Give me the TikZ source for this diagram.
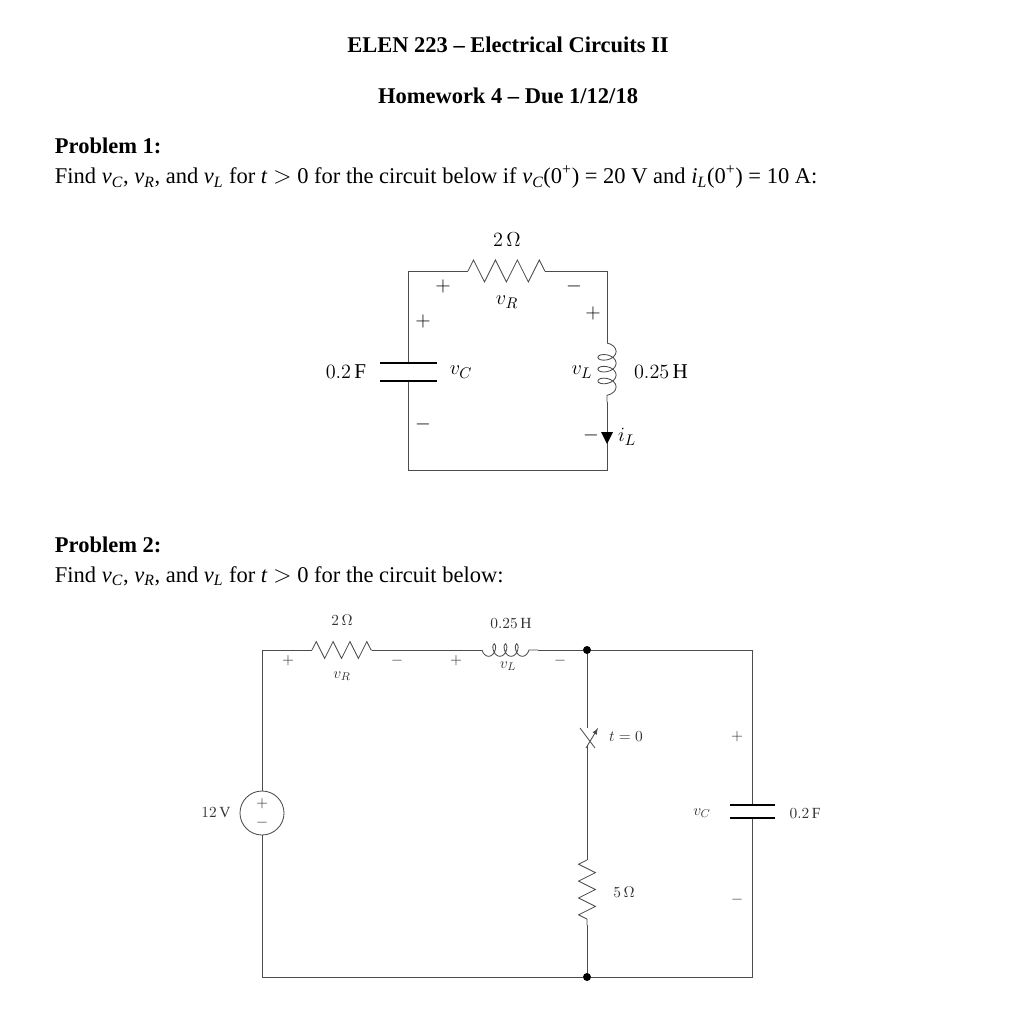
\documentclass[tikz,border=0pt]{standalone}
\usepackage{fontspec}
\setmainfont{Liberation Serif}
\usetikzlibrary{decorations.pathmorphing}
\begin{document}
\begin{tikzpicture}
      [x=0.025cm,y=-0.025cm,
      wire/.style={draw=black!70,line width=0.6pt},
      res/.style={wire,decorate,decoration={zigzag,segment length=12,amplitude=6}},
      coil/.style={wire,decorate,decoration={coil,aspect=0.6,segment length=8.4,amplitude=6.5}},
      plate/.style={line width=1.3pt},
      lbl/.style={font=\fontsize{15}{17}\selectfont},
      small/.style={font=\fontsize{11}{13}\selectfont,text=black!80},
      dot/.style={circle,fill,inner sep=0pt,minimum size=2mm}
      ]
      \useasboundingbox (0,0) rectangle (1015,1024);
      % heading
      \node (title) at (508,45) {\fontsize{16}{19}\selectfont\bfseries ELEN 223 -- Electrical Circuits II};
      \node (hw) at (508,96) {\fontsize{16}{19}\selectfont\bfseries Homework 4 -- Due 1/12/18};
      \node (p1) [anchor=west] at (50,146) {\fontsize{16}{19}\selectfont\bfseries Problem 1:};
      \node (q1) [anchor=west] at (50,177) {\fontsize{16}{19}\selectfont Find \textit{v\textsubscript{C}}, \textit{v\textsubscript{R}}, and \textit{v\textsubscript{L}} for \textit{t} $>$ 0 for the circuit below if \textit{v\textsubscript{C}}(0\textsuperscript{+}) = 20 V and \textit{i\textsubscript{L}}(0\textsuperscript{+}) = 10 A:};
      \node (p2) [anchor=west] at (50,545) {\fontsize{16}{19}\selectfont\bfseries Problem 2:};
      \node (q2) [anchor=west] at (50,576) {\fontsize{16}{19}\selectfont Find \textit{v\textsubscript{C}}, \textit{v\textsubscript{R}}, and \textit{v\textsubscript{L}} for \textit{t} $>$ 0 for the circuit below:};
      % circuit 1
      \coordinate (a) at (408,271);
      \coordinate (b) at (607,271);
      \coordinate (c) at (607,470);
      \coordinate (d) at (408,470);
      \coordinate (r1) at (468,271);
      \coordinate (r2) at (545,271);
      \coordinate (l1) at (607,343);
      \coordinate (l2) at (607,402);
      \coordinate (c1) at (408,363);
      \coordinate (c2) at (408,381);
      \draw [wire] (c1) -- (a) -- (r1);
      \draw [res,decoration={segment length=15.6,amplitude=7.8}] (r1) -- (r2);
      \draw [wire] (r2) -- (b) -- (l1);
      \draw [coil] (l1) -- (l2);
      \draw [wire] (l2) -- (c) -- (d) -- (c2);
      \draw [plate] (380,363) -- (437,363) (380,381) -- (437,381);
      \fill (601,432) -- (613,432) -- (607,444) -- cycle;
      \node [lbl] (rv) at (507,240) {$2\,\Omega$};
      \node [lbl] (rl) at (507,302) {$v_R$};
      \node [lbl] (rp) at (443,286) {$+$};
      \node [lbl] (rm) at (574,286) {$-$};
      \node [lbl] (cp) at (423,321) {$+$};
      \node [lbl] (cm) at (423,424) {$-$};
      \node [lbl] (cv) at (346,372) {$0.2\,\mathrm{F}$};
      \node [lbl] (cl) at (461,372) {$v_C$};
      \node [lbl] (lp) at (593,313) {$+$};
      \node [lbl] (lm) at (591,435) {$-$};
      \node [lbl] (lv) at (661,372) {$0.25\,\mathrm{H}$};
      \node [lbl] (ll) at (582,372) {$v_L$};
      \node [lbl] (il) at (627,437) {$i_L$};
      % circuit 2
      \coordinate (e) at (262,650);
      \coordinate (f) at (752,650);
      \coordinate (g) at (752,977);
      \coordinate (h) at (262,977);
      \node [dot] (top) at (587,650) {};
      \node [dot] (bot) at (587,977) {};
      \node [circle,draw=black!70,line width=0.6pt,minimum size=1.1cm,inner sep=0pt] (src) at (262,813) {};
      \node [small] at (262,804) {$+$};
      \node [small] at (262,823) {$-$};
      \draw [wire] (src) -- (e) -- (312,650);
      \draw [res] (312,650) -- (372,650);
      \draw [wire] (372,650) -- (482,650);
      \draw [wire,decorate,decoration={coil,aspect=0.6,segment length=8,amplitude=4.5,mirror}] (482,650) -- (538,650);
      \draw [wire] (538,650) -- (top) -- (f) -- (752,805);
      \draw [wire] (752,818) -- (g) -- (bot) -- (h) -- (src);
      \draw [plate] (730,805) -- (775,805) (730,818) -- (775,818);
      \draw [wire] (top) -- (587,728);
      \draw [wire] (580,728) -- (595,748);
      \draw [-latex,wire] (586,748) -- (598,728);
      \draw [wire] (587,746) -- (587,860);
      \draw [res,decoration={mirror}] (587,860) -- (587,925);
      \draw [wire] (587,925) -- (bot);
      \node [small] (sv) at (342,620) {$2\,\Omega$};
      \node [small] (sl) at (342,676) {$v_R$};
      \node [small] (sp) at (288,661) {$+$};
      \node [small] (sm) at (397,661) {$-$};
      \node [small] (iv) at (511,623) {$0.25\,\mathrm{H}$};
      \node [small] (ill) at (508,666) {$v_L$};
      \node [small] (ip) at (456,661) {$+$};
      \node [small] (im) at (560,661) {$-$};
      \node [small] (t0) at (626,737) {$t=0$};
      \node [small] (fv) at (624,892) {$5\,\Omega$};
      \node [small] (ev) at (216,813) {$12\,\mathrm{V}$};
      \node [small] (vcp) at (737,737) {$+$};
      \node [small] (vcm) at (737,900) {$-$};
      \node [small] (vc) at (702,813) {$v_C$};
      \node [small] (cf) at (805,813) {$0.2\,\mathrm{F}$};
\end{tikzpicture}
\end{document}
